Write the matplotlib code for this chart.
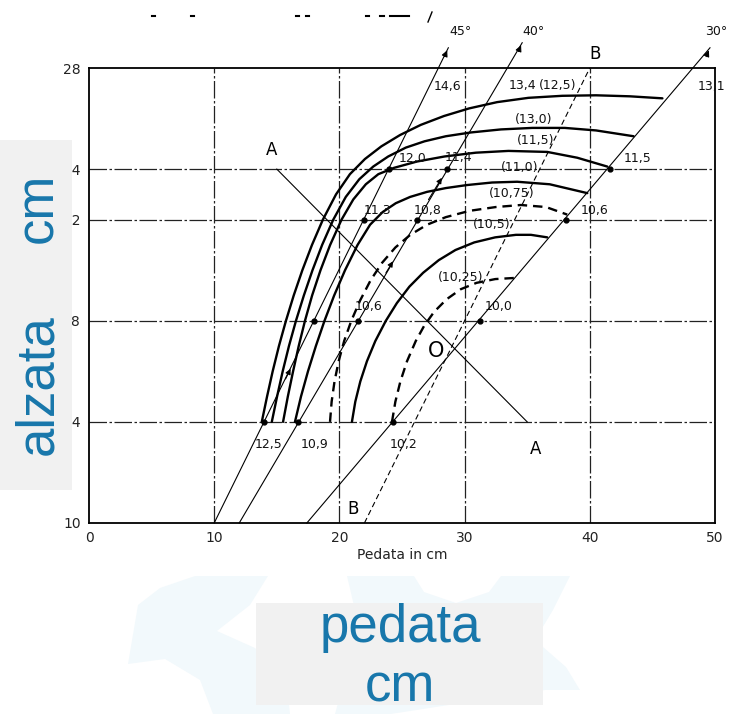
import matplotlib.pyplot as plt
from matplotlib.patches import Rectangle, Polygon
from matplotlib.lines import Line2D

# curves (pedata x / alzata y), label in brackets
a_x = [13.8, 14.22, 14.67, 15.17, 15.73, 16.35, 17.04, 17.81, 18.68, 19.73, 20.84, 22.04, 23.35,
       24.85, 26.5, 28.35, 30.35, 32.6, 35.1, 37.8, 40.5, 43.2, 45.8]
a_y = [14.0, 15.0, 16.0, 17.0, 18.0, 19.0, 20.0, 21.0, 22.0, 23.0, 23.8, 24.4, 24.9,
       25.35, 25.75, 26.1, 26.4, 26.65, 26.82, 26.9, 26.92, 26.88, 26.8]
b_x = [14.6, 15.02, 15.47, 15.97, 16.53, 17.16, 17.85, 18.62, 19.51, 20.51, 21.59, 22.7, 23.9,
       25.3, 26.8, 28.5, 30.5, 32.9, 35.4, 38.0, 40.5, 43.5]
b_y = [14.0, 15.0, 16.0, 17.0, 18.0, 19.0, 20.0, 21.0, 22.0, 22.9, 23.6, 24.1, 24.5,
       24.85, 25.1, 25.3, 25.45, 25.57, 25.63, 25.63, 25.53, 25.3]
c_x = [15.5, 15.88, 16.3, 16.75, 17.25, 17.82, 18.49, 19.26, 20.17, 21.11, 22.11, 23.11, 24.36,
       26.2, 28.4, 30.9, 33.5, 36.6, 39.0, 41.4]
c_y = [14.0, 15.0, 16.0, 17.0, 18.0, 19.0, 20.0, 21.0, 22.0, 22.8, 23.4, 23.8, 24.05,
       24.3, 24.5, 24.65, 24.72, 24.68, 24.45, 24.1]
d_x = [16.45, 16.93, 17.49, 18.12, 18.81, 19.58, 20.45, 21.45, 22.45, 23.45, 24.5, 25.65, 27.0,
       28.5, 30.2, 32.2, 34.2, 36.8, 39.8]
d_y = [14.0, 15.0, 16.0, 17.0, 18.0, 19.0, 20.0, 21.0, 21.8, 22.3, 22.65, 22.9, 23.1,
       23.25, 23.37, 23.47, 23.5, 23.4, 23.05]
e_x = [19.25, 19.38, 19.61, 19.94, 20.38, 20.95, 21.65, 22.49, 23.42, 24.47, 25.66, 27.0, 28.5,
       30.4, 32.5, 34.5, 36.5, 38.2]
e_y = [14.0, 14.8, 15.6, 16.4, 17.2, 18.0, 18.8, 19.6, 20.3, 20.9, 21.4, 21.8, 22.1,
       22.35, 22.5, 22.58, 22.5, 22.2]
f_x = [21.0, 21.27, 21.67, 22.2, 22.87, 23.71, 24.59, 25.59, 26.69, 27.94, 29.27, 30.77, 32.44,
       34.1, 35.3, 36.6]
f_y = [14.0, 14.8, 15.6, 16.4, 17.2, 18.0, 18.7, 19.35, 19.9, 20.4, 20.8, 21.1, 21.3,
       21.4, 21.4, 21.3]
g_x = [24.2, 24.47, 24.87, 25.4, 26.1, 26.77, 27.56, 28.56, 29.7, 30.95, 32.45, 34.2]
g_y = [14.0, 14.8, 15.6, 16.4, 17.2, 17.8, 18.35, 18.85, 19.25, 19.5, 19.65, 19.7]

curve_labels = ["(12,5)", "(13,0)", "(11,5)", "(11,0)", "(10,75)", "(10,5)", "(10,25)"]
curve_lab_x = [37.4, 35.5, 35.7, 34.4, 33.8, 32.2, 29.7]
curve_lab_y = [27.3, 25.95, 25.15, 24.05, 23.05, 21.8, 19.7]

# inclination lines 45, 40, 30 degrees: start on bottom edge, arrow tip above frame
ang_labels = ["45°", "40°", "30°"]
ang_x0 = [10.0, 12.0, 17.4]
ang_x1 = [28.7, 34.6, 49.6]
ang_y1 = [28.8, 29.0, 28.8]
ang_lab_x = [29.7, 35.5, 50.1]

# points on the inclination lines and their values
pt_x = [14.0, 16.7, 24.25, 18.0, 21.45, 31.2, 22.0, 26.2, 38.1, 24.0, 28.6, 41.6]
pt_y = [14, 14, 14, 18, 18, 18, 22, 22, 22, 24, 24, 24]
val_labels = ["12,5", "10,9", "10,2", "10,6", "10,0", "11,3", "10,8", "10,6",
              "12,0", "11,4", "11,5", "14,6", "13,4", "13,1"]
val_x = [13.2, 16.9, 24.0, 21.2, 31.6, 21.9, 25.9, 39.3, 24.7, 28.4, 42.7, 27.5, 33.5, 48.6]
val_y = [13.35, 13.35, 13.35, 18.3, 18.3, 22.1, 22.1, 22.1, 24.15, 24.2, 24.15, 27.25, 27.3, 27.25]

# small arrowheads along the inclination lines (from, to)
arr_from = [(15.6, 15.6), (23.6, 19.8), (27.0, 22.7)]
arr_to = [(16.2, 16.2), (24.4, 20.45), (28.3, 23.75)]

# line A (2a + p = 63) and line B (p - a = 12)
A_x = [15.0, 35.0]
A_y = [24.0, 14.0]
B_x = [22.0, 40.0]
B_y = [10.0, 28.0]

xticks = [0, 10, 20, 30, 40, 50]
yticks = [10, 14, 18, 22, 24, 28]

fig = plt.figure(figsize=(7.32, 7.14), dpi=100)
ax = fig.add_axes([89 / 732, 1 - 523 / 714, 626 / 732, 455 / 714])
ax.set_xlim(0, 50)
ax.set_ylim(10, 28)

for x in [10, 20, 30, 40]:
    ax.axvline(x, color='#222222', lw=0.9, ls=(0, (14, 2, 2, 2)))
for y in [14, 18, 22, 24]:
    ax.axhline(y, color='#222222', lw=0.9, ls=(0, (14, 2, 2, 2)))

thick = 1.7
for cx, cy in [(a_x, a_y), (b_x, b_y), (c_x, c_y), (d_x, d_y), (f_x, f_y)]:
    ax.plot(cx, cy, color='k', lw=thick, solid_joinstyle='round', solid_capstyle='round')
for cx, cy in [(e_x, e_y), (g_x, g_y)]:
    ax.plot(cx, cy, color='k', lw=thick, ls=(0, (4, 2.5)))

for t, x, y in zip(curve_labels, curve_lab_x, curve_lab_y):
    ax.text(x, y, t, fontsize=9, ha='center', va='center', color='#111111')

for t, x0, x1, y1, lx in zip(ang_labels, ang_x0, ang_x1, ang_y1, ang_lab_x):
    ax.plot([x0, x1], [10, y1], color='k', lw=0.8, clip_on=False)
    ax.annotate("", xy=(x1, y1), xytext=(x1 - 0.4, y1 - 0.45),
                arrowprops=dict(arrowstyle='-|>', color='k', lw=0.8, mutation_scale=9),
                annotation_clip=False)
    ax.text(lx, 29.45, t, fontsize=9, ha='center', va='center', color='#111111')

for p0, p1 in zip(arr_from, arr_to):
    ax.annotate("", xy=p1, xytext=p0,
                arrowprops=dict(arrowstyle='-|>', color='k', lw=0.8, mutation_scale=8))

ax.plot(pt_x, pt_y, 'o', color='k', ms=3.5, clip_on=False)
for t, x, y in zip(val_labels, val_x, val_y):
    va = 'top' if y < 14 else ('center' if y > 27 else 'bottom')
    ax.text(x, y, t, fontsize=9, ha='left', va=va, color='#111111', clip_on=False)

ax.plot(A_x, A_y, color='k', lw=0.8)
ax.plot(B_x, B_y, color='k', lw=0.8, ls=(0, (5, 3)), clip_on=False)
ax.text(14.6, 24.4, "A", fontsize=12, ha='center', va='bottom')
ax.text(35.7, 13.3, "A", fontsize=12, ha='center', va='top')
ax.text(21.1, 10.2, "B", fontsize=12, ha='center', va='bottom')
ax.text(40.4, 28.2, "B", fontsize=12, ha='center', va='bottom', clip_on=False)
ax.text(27.7, 16.8, "O", fontsize=15, ha='center', va='center')

ax.set_xticks(xticks)
ax.set_yticks(yticks)
ax.set_xticklabels([str(v) for v in xticks], fontsize=10, color='#222222')
ax.set_yticklabels([str(v) for v in yticks], fontsize=10, color='#222222')
ax.tick_params(length=0, pad=6)
ax.set_xlabel("Pedata in cm", fontsize=10, color='#222222', labelpad=2)
for s in ax.spines.values():
    s.set_linewidth(1.3)

# scan residue at the top edge
for x0, x1 in [(152, 155), (191, 194), (296, 299), (306, 309), (366, 369), (380, 384), (390, 409)]:
    fig.add_artist(Line2D([x0 / 732, x1 / 732], [1 - 16 / 714, 1 - 16 / 714], color='k', lw=1.5))
fig.add_artist(Line2D([428 / 732, 432 / 732], [1 - 22 / 714, 1 - 12 / 714], color='k', lw=1.0))

# faint watermark shapes behind the bottom box (pixel outlines)
wm1 = [(138, 605), (160, 588), (195, 576), (268, 576), (250, 605), (217, 631), (255, 648),
       (286, 677), (290, 714), (213, 714), (200, 680), (165, 659), (128, 664)]
wm2 = [(347, 576), (414, 576), (424, 592), (456, 603), (489, 592), (501, 576), (570, 576),
       (553, 610), (535, 640), (566, 667), (580, 690), (545, 690), (391, 714), (335, 714),
       (359, 627)]
for wm in [wm1, wm2]:
    fig.add_artist(Polygon([(px / 732, 1 - py / 714) for px, py in wm], closed=True,
                           facecolor='#f2f9fc', edgecolor='none', transform=fig.transFigure,
                           zorder=1))

# overlay boxes with the axis names
blue = '#1877ab'
fig.add_artist(Rectangle((0, 1 - 490 / 714), 72 / 732, 350 / 714, facecolor='#f1f1f1',
                         edgecolor='none', transform=fig.transFigure, zorder=5))
fig.text(38 / 732, 1 - 385 / 714, "alzata", rotation=90, fontsize=38, color=blue,
         ha='center', va='center', family='Liberation Sans', zorder=6)
fig.text(38 / 732, 1 - 208 / 714, "cm", rotation=90, fontsize=38, color=blue,
         ha='center', va='center', family='Liberation Sans', zorder=6)
fig.add_artist(Rectangle((256 / 732, 1 - 705 / 714), 287 / 732, 102 / 714, facecolor='#f1f1f1',
                         edgecolor='none', transform=fig.transFigure, zorder=5))
fig.text(400 / 732, 1 - 628 / 714, "pedata", fontsize=38, color=blue,
         ha='center', va='center', family='Liberation Sans', zorder=6)
fig.text(400 / 732, 1 - 688 / 714, "cm", fontsize=38, color=blue,
         ha='center', va='center', family='Liberation Sans', zorder=6)

fig.savefig("out.png", dpi=100)
